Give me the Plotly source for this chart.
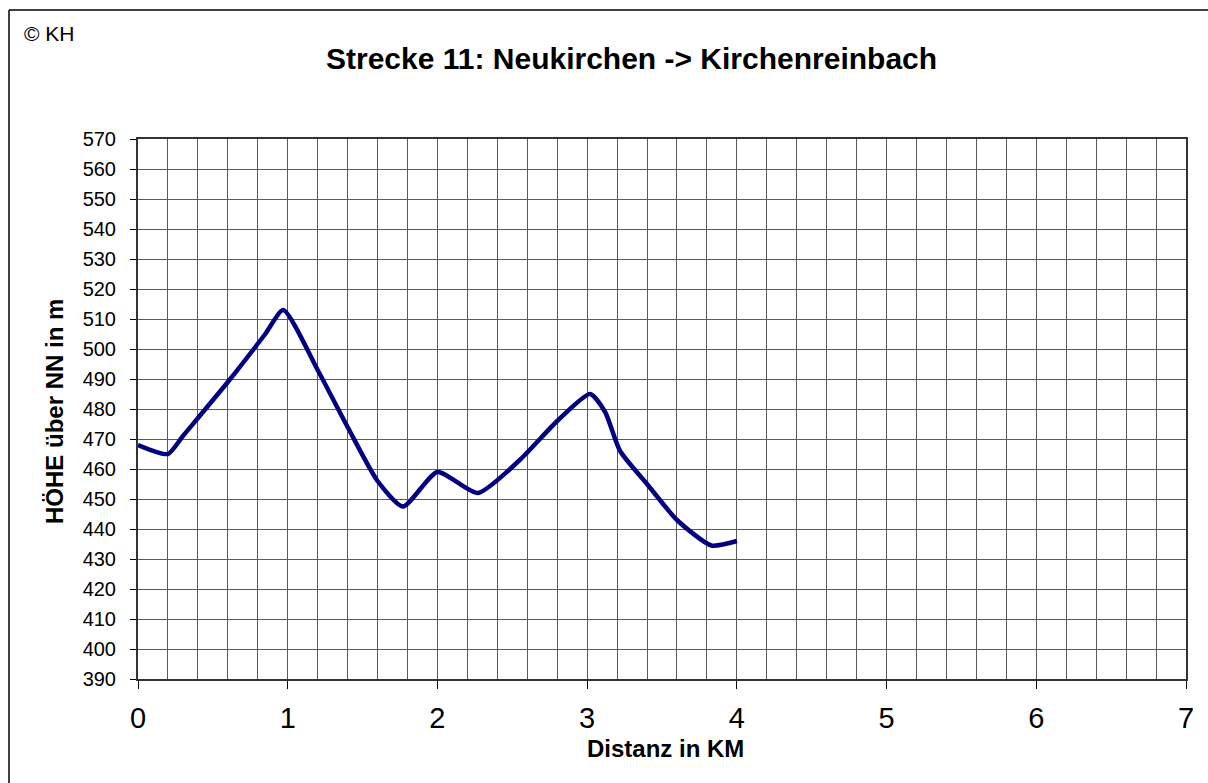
import plotly.graph_objects as go

distanz_km = [0, 0.2, 0.3, 0.6, 0.85, 0.97, 1.2, 1.4, 1.6, 1.77, 2.0, 2.27, 2.55, 2.8, 3.02, 3.12, 3.22, 3.4, 3.6, 3.83, 4.0]
hoehe_m = [468, 465, 471, 489, 505, 513, 493, 474, 456, 447.5, 459, 452, 463, 476, 485, 479, 466, 455, 443, 434.5, 436]

W, H = 1208, 783
L, R, T, B = 138, 1208 - 1186, 139, 783 - 679
pw, ph = W - L - R, H - T - B

def px(x):
    return (x - L) / pw

def py(y):
    return (H - B - y) / ph

fig = go.Figure()
fig.add_trace(go.Scatter(
    x=distanz_km, y=hoehe_m, mode="lines",
    line=dict(color="#000080", width=4.5, shape="spline", smoothing=0.6),
    hoverinfo="x+y", showlegend=False,
))

font = "Liberation Sans, Arial, sans-serif"
grid = "#5a5a5a"
fig.update_layout(
    width=W, height=H,
    margin=dict(l=L, r=R, t=T, b=B),
    paper_bgcolor="white", plot_bgcolor="white",
    font=dict(family=font, color="black"),
    xaxis=dict(
        range=[0, 7], dtick=1, tick0=0, showgrid=True, gridcolor=grid, gridwidth=1,
        minor=dict(dtick=0.2, showgrid=True, gridcolor=grid, gridwidth=1),
        ticks="outside", ticklen=8, tickcolor="black", tickwidth=1,
        tickfont=dict(size=29, family=font), ticklabelstandoff=4,
        showline=True, linecolor="#333333", linewidth=2, mirror=True,
        zeroline=False,
    ),
    yaxis=dict(
        range=[390, 570], dtick=10, tick0=390, showgrid=True, gridcolor=grid, gridwidth=1,
        ticks="outside", ticklen=6, tickcolor="black", tickwidth=1,
        tickfont=dict(size=20, family=font), ticklabelstandoff=10,
        showline=True, linecolor="#333333", linewidth=2, mirror=True,
        zeroline=False,
    ),
    shapes=[
        dict(type="line", xref="paper", yref="paper",
             x0=px(9), x1=px(9), y0=py(800), y1=py(10),
             line=dict(color="black", width=1.5), layer="below"),
        dict(type="line", xref="paper", yref="paper",
             x0=px(9), x1=px(1230), y0=py(10), y1=py(10),
             line=dict(color="black", width=1.5), layer="below"),
    ],
    annotations=[
        dict(text="<b>Strecke 11: Neukirchen -> Kirchenreinbach</b>", xref="paper", yref="paper",
             x=px(631), y=py(58), xanchor="center", yanchor="middle", showarrow=False,
             font=dict(size=30, family=font, color="black")),
        dict(text="© KH", xref="paper", yref="paper", x=px(22), y=py(33),
             xanchor="left", yanchor="middle", showarrow=False,
             font=dict(size=21, family=font, color="black")),
        dict(text="<b>Distanz in KM</b>", xref="paper", yref="paper", x=px(665), y=py(748),
             xanchor="center", yanchor="middle", showarrow=False,
             font=dict(size=24, family=font, color="black")),
        dict(text="<b>HÖHE über NN in m</b>", xref="paper", yref="paper", x=px(54), y=py(412),
             xanchor="center", yanchor="middle", showarrow=False, textangle=-90,
             font=dict(size=24, family=font, color="black")),
    ],
)

fig.write_html("out.html", config={"displayModeBar": False},
               post_script="document.body.style.margin='0';document.body.style.overflow='hidden';")
